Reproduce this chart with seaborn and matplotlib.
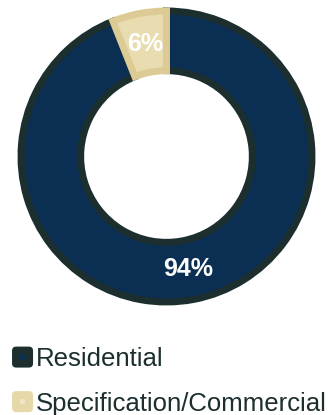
import matplotlib
matplotlib.use("Agg")
import matplotlib.pyplot as plt
import seaborn as sns
import numpy as np
from matplotlib.patches import FancyBboxPatch, Rectangle
from matplotlib.legend_handler import HandlerBase

categories = ["Residential", "Specification/Commercial"]
values = [94, 6]
labels = ["94%", "6%"]
fills = ["#0a2f52", "#e8dcb0"]
edges = ["#1c2e2e", "#dccb94"]
legend_colors = ["#1c2e2e", "#e6d8a8"]
legend_inner = ["#0a2f52", "#efe6c8"]

sns.set_theme(style="white")
plt.rcParams['font.family'] = ['Liberation Sans', 'DejaVu Sans']

W, H = 333, 415
fig = plt.figure(figsize=(W/100, H/100), dpi=100)
cx, cy, R = 166.5, 156.5, 149.5
ax = fig.add_axes([(cx - R)/W, 1 - (cy + R)/H, 2*R/W, 2*R/H])
wedges, _ = ax.pie(values, startangle=90, counterclock=False,
                   colors=fills, radius=1.0,
                   wedgeprops=dict(width=0.41, linewidth=5))
for w, e in zip(wedges, edges):
    w.set_edgecolor(e)
for w, lab in zip(wedges, labels):
    ang = np.deg2rad((w.theta1 + w.theta2) / 2)
    r = 0.785
    ax.text(r*np.cos(ang), r*np.sin(ang), lab, ha="center", va="center",
            color="white", fontsize=18, fontweight="bold")
lim = R / 145.5
ax.set_xlim(-lim, lim); ax.set_ylim(-lim, lim)
ax.set_aspect("equal")
ax.axis("off")


class RoundSquare(HandlerBase):
    def __init__(self, face, inner):
        super().__init__()
        self.face = face
        self.inner = inner

    def create_artists(self, legend, orig_handle, xdescent, ydescent,
                       width, height, fontsize, trans):
        s = 21 * 72 / 100  # px -> points
        x0 = -xdescent + (width - s) / 2
        y0 = -ydescent + (height - s) / 2
        p = FancyBboxPatch((x0 + 1.5, y0 + 1.5), s - 3, s - 3,
                           boxstyle="round,pad=1.5,rounding_size=3",
                           facecolor=self.face, edgecolor="none", transform=trans)
        q = Rectangle((x0 + s/2 - 2, y0 + s/2 - 2), 4, 4,
                      facecolor=self.inner, edgecolor="none", transform=trans)
        return [p, q]


handles = [Rectangle((0, 0), 1, 1) for _ in categories]
hmap = {h: RoundSquare(f, i) for h, f, i in zip(handles, legend_colors, legend_inner)}
fig.legend(handles, categories, handler_map=hmap, loc="upper left",
           bbox_to_anchor=(12/W, 1 - 347/H), frameon=False, fontsize=18.5,
           handletextpad=0.1, labelspacing=0.8, handlelength=0.82, handleheight=0.82,
           borderaxespad=0.0, borderpad=0.0, labelcolor="#1c2e2e")
fig.savefig("out.png", dpi=100)
